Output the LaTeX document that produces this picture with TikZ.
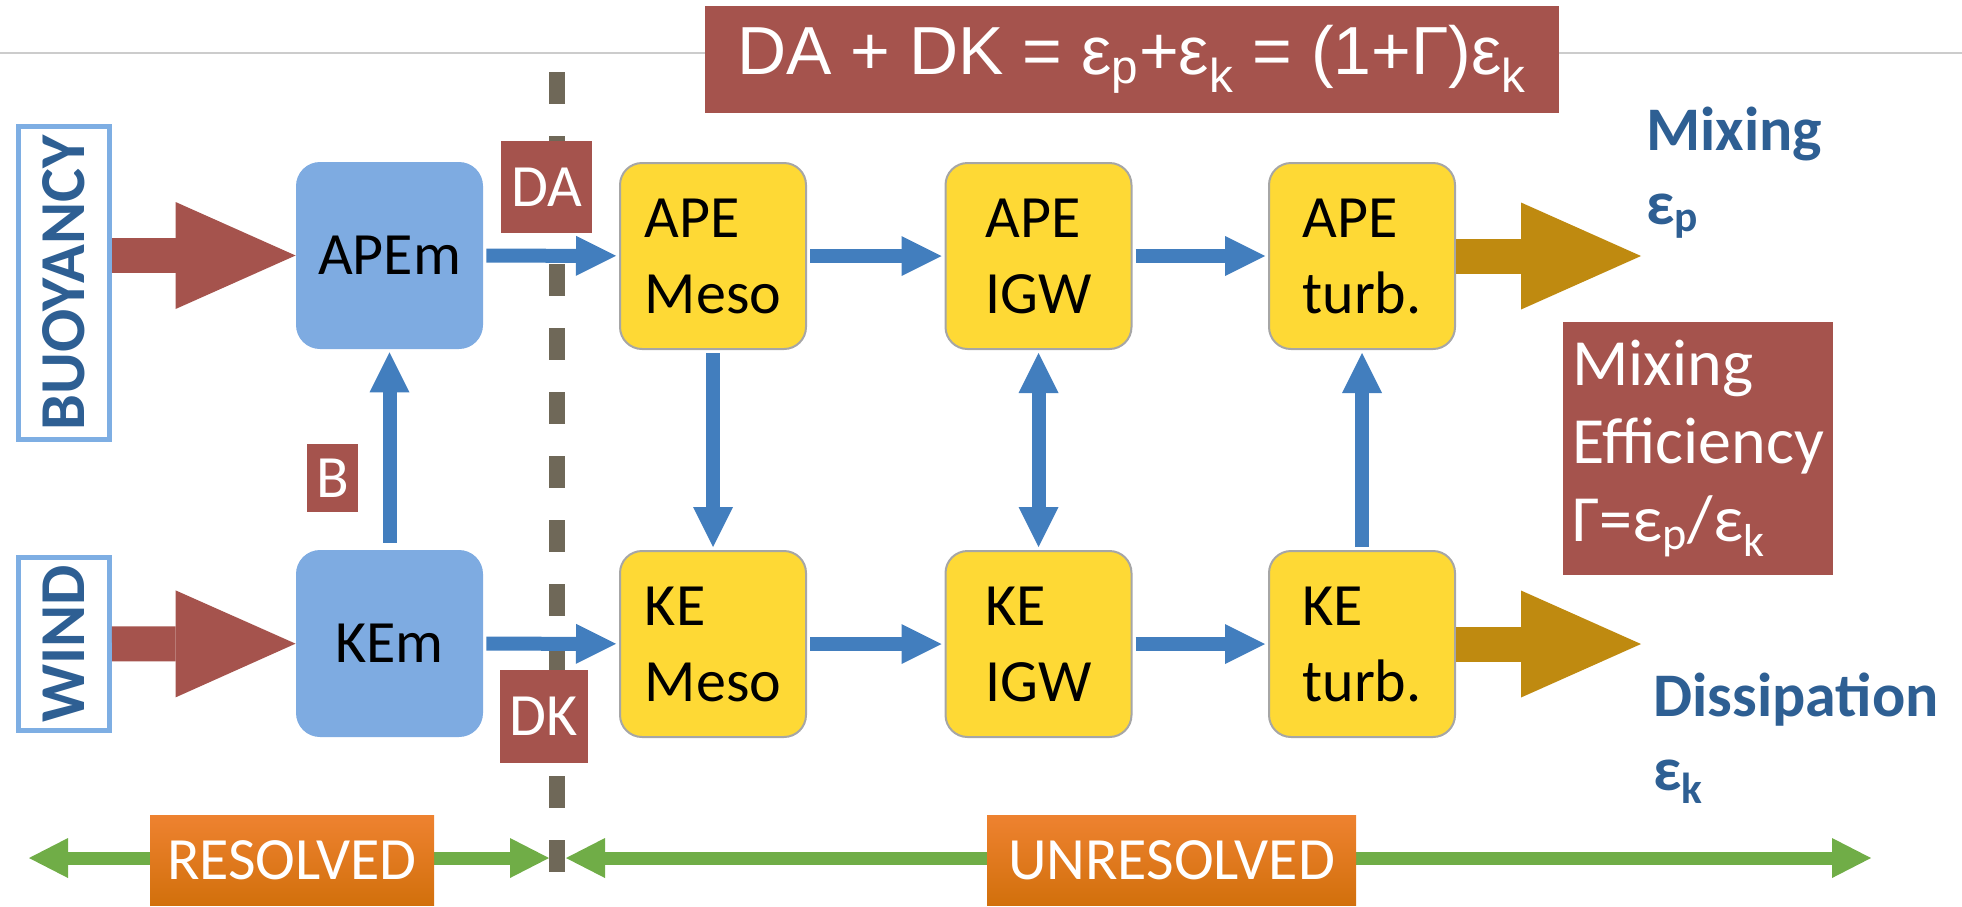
\documentclass[tikz,border=0pt]{standalone}
\usepackage{fontspec}
\setmainfont{Carlito}
\newfontfamily\eqnfont{Liberation Sans}
\usepackage{graphicx}
\usepackage{tikz}
\usetikzlibrary{arrows.meta}

\definecolor{srcblue}{HTML}{7EAEE3}
\definecolor{txtblue}{HTML}{2E5F93}
\definecolor{mblue}{HTML}{7EABE1}
\definecolor{eyellow}{HTML}{FED935}
\definecolor{eborder}{HTML}{A6A6A6}
\definecolor{arrblue}{HTML}{427EBE}
\definecolor{lblred}{HTML}{A5534D}
\definecolor{gold}{HTML}{BF8A10}
\definecolor{cutgray}{HTML}{6F6858}
\definecolor{rngreen}{HTML}{70AD47}
\definecolor{orgtop}{HTML}{EE8230}
\definecolor{orgbot}{HTML}{D2700C}
\definecolor{rulegray}{HTML}{CCCCCC}

\newcommand{\bigfont}{\fontsize{30}{38}\selectfont}
\newcommand{\epsp}{ε\textsubscript{p}}
\newcommand{\epsk}{ε\textsubscript{k}}

\begin{document}
\begin{tikzpicture}
[x=0.5pt,y=-0.5pt
,src/.style={draw=srcblue,line width=2.5pt,fill=white,inner sep=0pt,minimum width=45.5pt,text=txtblue,font=\fontsize{32}{32}\selectfont\bfseries}
,mean/.style={fill=mblue,rounded corners=12pt,minimum size=93.5pt,inner sep=0pt,font=\bigfont}
,sub/.style={draw=eborder,line width=1pt,fill=eyellow,rounded corners=11pt,minimum size=93pt,inner sep=0pt,align=left,font=\bigfont}
,lbl/.style={fill=lblred,text=white,inner sep=0pt,font=\bigfont}
,ba/.style={draw=arrblue,line width=7pt,shorten <=1.5pt,shorten >=1.5pt,arrows={-Triangle[length=20pt,width=20pt,line width=0pt]}}
,dba/.style={ba,arrows={Triangle[length=20pt,width=20pt,line width=0pt]-Triangle[length=20pt,width=20pt,line width=0pt]}}
,fat/.style={line width=17.5pt,arrows={-Triangle[length=60pt,width=53.5pt,line width=0pt]}}
,sink/.style={text=txtblue,font=\fontsize{31}{37}\selectfont\bfseries,align=left,anchor=base west,inner sep=0pt}
,rng/.style={draw=rngreen,line width=6.5pt,arrows={Triangle[length=19.5pt,width=20pt,line width=0pt]-Triangle[length=19.5pt,width=20pt,line width=0pt]}}
,regime/.style={top color=orgtop,bottom color=orgbot,text=white,minimum height=45pt,inner sep=0pt,font=\bigfont}
]
\useasboundingbox (0,0) rectangle (1962,906);

% header rule and the resolved / unresolved cut
\draw[rulegray,line width=1pt] (0,53) -- (1962,53);
\coordinate (cuttop) at (557,72);
\coordinate (cutbot) at (557,872);
\draw[cutgray,line width=8pt,dash pattern=on 16pt off 16pt] (cuttop) -- (cutbot);

% forcing
\node[src,minimum height=156.5pt] (buoy) at (64,283) {\rotatebox{90}{BUOYANCY}};
\node[src,minimum height=86.5pt] (wind) at (64,644) {\rotatebox{90}{WIND}};

% mean and subgrid reservoirs
\node[mean] (apem) at (389.5,255.5) {APEm};
\node[mean] (kem) at (389.5,643.5) {KEm};
\node[sub] (apemeso) at (713,256) {APE\\Meso};
\node[sub] (apeigw) at (1038.5,256) {APE\\IGW};
\node[sub] (apeturb) at (1362,256) {APE\\turb.};
\node[sub] (kemeso) at (713,644) {KE\\Meso};
\node[sub] (keigw) at (1038.5,644) {KE\\IGW};
\node[sub] (keturb) at (1362,644) {KE\\turb.};

% conversion terms
\node[lbl,minimum width=45.5pt,minimum height=46pt] (da) at (546.5,187) {DA};
\node[lbl,minimum width=44pt,minimum height=46.5pt] (dk) at (544,716.5) {DK};
\node[lbl,minimum width=25.5pt,minimum height=34pt] (b) at (332.5,478) {B};
\node[lbl,minimum width=427pt,minimum height=53.5pt,font=\eqnfont\fontsize{34}{34}\selectfont] (budget) at (1132,59.5) {DA + DK = \epsp+\epsk{} = (1+Γ)\epsk};
\node[lbl,minimum width=135pt,minimum height=126.5pt,align=left,font=\fontsize{33}{39}\selectfont] (gamma) at (1698,448.5) {Mixing\\Efficiency\\Γ=\epsp/\epsk};

% sinks
\coordinate (mixout) at (1641,256);
\coordinate (dissout) at (1641,644);
\node[sink] (mixlbl) at (1646,224) {Mixing\\\epsp};
\node[sink] (disslbl) at (1653,790) {Dissipation\\\epsk};

\draw[fat,draw=lblred] (buoy.east |- apem) -- (apem.west);
\draw[fat,draw=lblred] (wind) -- (kem);
\draw[fat,draw=gold] (apeturb) -- (mixout);
\draw[fat,draw=gold] (keturb) -- (dissout);

\draw[ba] (apem) -- (apemeso);
\draw[ba] (apemeso) -- (apeigw);
\draw[ba] (apeigw) -- (apeturb);
\draw[ba] (kem) -- (kemeso);
\draw[ba] (kemeso) -- (keigw);
\draw[ba] (keigw) -- (keturb);
\draw[ba,shorten <=3.5pt] (kem) -- (apem);
\draw[ba] (apemeso) -- (kemeso);
\draw[dba] (apeigw) -- (keigw);
\draw[ba] (keturb) -- (apeturb);

% scale ranges
\coordinate (resl) at (29,858);
\coordinate (resr) at (549,858);
\coordinate (unrl) at (566,858);
\coordinate (unrr) at (1871,858);
\draw[rng] (resl) -- (resr);
\draw[rng] (unrl) -- (unrr);
\node[regime,minimum width=142pt] (res) at (292,860) {RESOLVED};
\node[regime,minimum width=184.5pt] (unres) at (1171.5,860) {UNRESOLVED};
\end{tikzpicture}
\end{document}
